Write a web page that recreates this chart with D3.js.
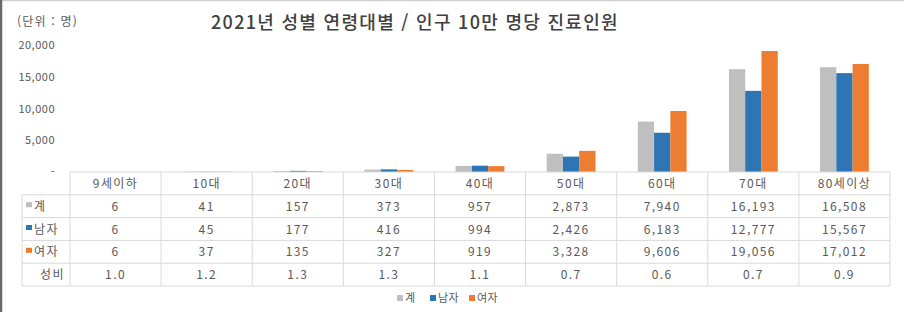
<!DOCTYPE html>
<html lang="ko">
<head>
<meta charset="utf-8">
<script src="https://cdn.jsdelivr.net/npm/d3@7"></script>
<style>
  body { margin: 0; background: #fff; }
  svg { display: block; font-family: "Noto Sans CJK KR", "Noto Sans", sans-serif; }
</style>
</head>
<body>
<div id="chart"></div>
<script>
// 2021 age/sex patients per 100k population
const categories = ["9세이하", "10대", "20대", "30대", "40대", "50대", "60대", "70대", "80세이상"];
const seriesNames = ["계", "남자", "여자"];
const totalValues = [6, 41, 157, 373, 957, 2873, 7940, 16193, 16508];
const maleValues = [6, 45, 177, 416, 994, 2426, 6183, 12777, 15567];
const femaleValues = [6, 37, 135, 327, 919, 3328, 9606, 19056, 17012];
const sexRatio = [1.0, 1.2, 1.3, 1.3, 1.1, 0.7, 0.6, 0.7, 0.9];
const yTicks = [0, 5000, 10000, 15000, 20000];

const colors = ["#BFBFBF", "#2E75B6", "#ED7D31"];
const width = 904, height = 312;

const series = [totalValues, maleValues, femaleValues];
const rows = categories.map((c, i) => ({
    cat: c,
    vals: series.map((s, k) => ({ key: seriesNames[k], value: s[i], k }))
}));

const svg = d3.select("#chart").append("svg")
    .attr("width", width)
    .attr("height", height);

// frame
svg.append("line").attr("x1", 0).attr("x2", width).attr("y1", 0.5).attr("y2", 0.5)
    .attr("stroke", "#d0d0d0").attr("stroke-width", 1.5);
svg.append("line").attr("x1", 1).attr("x2", 1).attr("y1", 0).attr("y2", height)
    .attr("stroke", "#6b6b6b").attr("stroke-width", 2.5);

const x = d3.scaleBand()
    .domain(categories)
    .range([70, 890])
    .padding(0);

const x1 = d3.scaleBand()
    .domain(seriesNames)
    .range([0, x.bandwidth()])
    .paddingInner(0)
    .paddingOuter(1.3);

const y = d3.scaleLinear()
    .domain([0, 20000])
    .range([172, 45]);

// Title
svg.append("text")
    .attr("x", 415)
    .attr("y", 29)
    .attr("text-anchor", "middle")
    .attr("fill", "#404040")
    .attr("font-size", "18px")
    .attr("font-weight", 500)
    .attr("letter-spacing", "1.3px")
    .text("2021년 성별 연령대별 / 인구 10만 명당 진료인원");

svg.append("text")
    .attr("x", 17)
    .attr("y", 26)
    .attr("fill", "#595959")
    .attr("font-size", "12px")
    .attr("letter-spacing", "1.2px")
    .text("(단위 : 명)");

// Y Axis (labels only)
const yAxis = svg.append("g")
    .attr("transform", "translate(55,0)")
    .call(d3.axisLeft(y).tickValues(yTicks).tickSize(0).tickPadding(0)
        .tickFormat(d => d === 0 ? "-" : d3.format(",")(d)));
yAxis.select(".domain").remove();
yAxis.selectAll("text")
    .attr("fill", "#595959")
    .attr("font-size", "11px")
    .attr("letter-spacing", "0.5px")
    .attr("font-family", "'Noto Sans CJK KR', sans-serif");

// Bars
svg.append("g")
    .selectAll("g")
    .data(rows)
    .join("g")
    .attr("transform", d => `translate(${x(d.cat)},0)`)
    .selectAll("rect")
    .data(d => d.vals)
    .join("rect")
    .attr("x", d => x1(d.key))
    .attr("width", x1.bandwidth())
    .attr("y", d => y(d.value))
    .attr("height", d => y(0) - y(d.value))
    .attr("fill", d => colors[d.k]);

// Data table
const rowTop = 172, rowH = 22.8;
const tableLeft = 22, tableRight = 890;
const grid = svg.append("g").attr("stroke", "#d9d9d9").attr("stroke-width", 1);

grid.append("line")
    .attr("x1", x.range()[0]).attr("x2", tableRight)
    .attr("y1", rowTop).attr("y2", rowTop);
d3.range(1, 6).forEach(r => {
    grid.append("line")
        .attr("x1", tableLeft).attr("x2", tableRight)
        .attr("y1", rowTop + r * rowH).attr("y2", rowTop + r * rowH);
});
grid.append("line")
    .attr("x1", tableLeft).attr("x2", tableLeft)
    .attr("y1", rowTop + rowH).attr("y2", rowTop + 5 * rowH);
categories.forEach(c => {
    grid.append("line")
        .attr("x1", x(c)).attr("x2", x(c))
        .attr("y1", rowTop).attr("y2", rowTop + 5 * rowH);
});
grid.append("line")
    .attr("x1", tableRight).attr("x2", tableRight)
    .attr("y1", rowTop).attr("y2", rowTop + 5 * rowH);

const cellText = (cx, r, t, anchor) => svg.append("text")
    .attr("x", cx)
    .attr("y", rowTop + r * rowH + rowH / 2 + 4.5)
    .attr("text-anchor", anchor || "middle")
    .attr("fill", "#595959")
    .attr("font-size", "12px")
    .attr("letter-spacing", "1.4px")
    .text(t);

categories.forEach((c, i) => {
    const cx = x(c) + x.bandwidth() / 2;
    cellText(cx, 0, c);
    series.forEach((s, k) => cellText(cx, k + 1, d3.format(",")(s[i])));
    cellText(cx, 4, d3.format(".1f")(sexRatio[i]));
});

// Row headers with legend keys
seriesNames.forEach((n, k) => {
    svg.append("rect")
        .attr("x", 26).attr("y", rowTop + (k + 1) * rowH + rowH / 2 - 4)
        .attr("width", 6).attr("height", 5)
        .attr("fill", colors[k]);
    cellText(34, k + 1, n, "start");
});
cellText(65, 4, "성비", "end");

// Legend
const legendX = [397, 430, 469];
seriesNames.forEach((n, k) => {
    svg.append("rect")
        .attr("x", legendX[k]).attr("y", 295)
        .attr("width", 6).attr("height", 6)
        .attr("fill", colors[k]);
    svg.append("text")
        .attr("x", legendX[k] + 8)
        .attr("y", 302)
        .attr("fill", "#595959")
        .attr("font-size", "11px")
        .attr("letter-spacing", "0.5px")
        .text(n);
});
</script>
</body>
</html>
